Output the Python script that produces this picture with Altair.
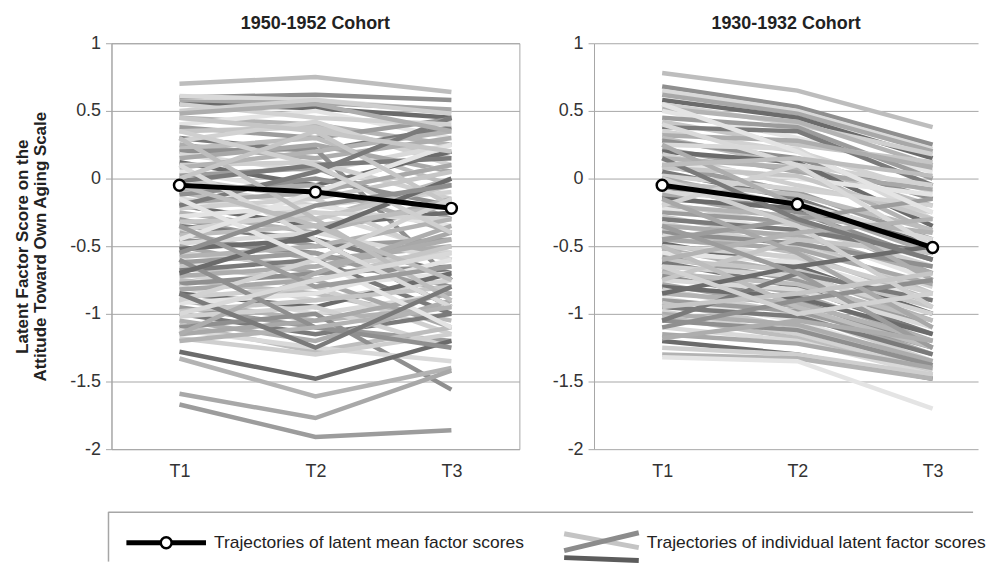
import altair as alt
import pandas as pd

T_LABELS = ["T1", "T2", "T3"]
Y_TICKS = [1, 0.5, 0, -0.5, -1, -1.5, -2]
TITLES = ["1950-1952  Cohort", "1930-1932  Cohort"]
Y_TITLE = ["Latent Factor Score on the", "Attitude Toward Own Aging Scale"]
LEGEND_MEAN = "Trajectories of latent mean factor scores"
LEGEND_IND = "Trajectories of individual latent factor scores"

# 1950-1952 cohort: individual trajectories (read approx. from picture)
LEFT_T1 = [0.70, 0.60, 0.61, 0.57, 0.55, 0.50, 0.45, 0.40, 0.38, 0.35, 0.30, 0.28, 0.25, 0.22, 0.20, 0.18,
           0.15, 0.12, 0.10, 0.08, 0.05, 0.02, 0.00, -0.02, -0.05, -0.08, -0.10, -0.12, -0.15, -0.18, -0.20,
           -0.22, -0.25, -0.28, -0.30, -0.32, -0.35, -0.38, -0.40, -0.42, -0.45, -0.48, -0.50, -0.52, -0.55,
           -0.58, -0.60, -0.62, -0.65, -0.68, -0.70, -0.72, -0.75, -0.78, -0.80, -0.82, -0.85, -0.88, -0.90,
           -0.92, -0.95, -0.98, -1.00, -1.02, -1.05, -1.08, -1.10, -1.12, -1.15, -1.28, -1.18, -1.33, -0.45,
           -1.67, 0.45, -0.20, -0.90, -1.15, 0.30, -0.60, 0.10, -1.59, -0.70, 0.35, -1.20, -0.15, -0.35, 0.00,
           -0.85, 0.55, 0.48, -0.05, -0.55, -1.00]
LEFT_T2 = [0.75, 0.62, 0.58, 0.56, 0.52, 0.58, 0.40, 0.50, 0.30, 0.38, 0.20, 0.42, 0.15, 0.30, 0.22, 0.05,
           0.25, -0.05, 0.12, 0.20, -0.10, 0.08, -0.15, 0.10, -0.20, -0.05, -0.30, 0.00, -0.25, -0.10, -0.35,
           -0.15, -0.40, -0.20, -0.50, -0.30, -0.45, -0.25, -0.60, -0.35, -0.55, -0.40, -0.70, -0.45, -0.65,
           -0.50, -0.80, -0.55, -0.75, -0.60, -0.90, -0.65, -0.85, -0.70, -1.00, -0.75, -0.95, -0.80, -1.05,
           -0.85, -1.10, -0.90, -1.15, -0.95, -1.20, -1.28, -1.00, -1.25, -1.05, -1.48, -1.30, -1.61, -0.10,
           -1.91, 0.35, 0.05, -0.60, -0.70, -0.30, -1.10, -0.45, -1.77, -0.40, 0.10, -1.10, -0.60, -0.80, 0.35,
           -1.25, 0.45, 0.55, -0.35, -0.20, -0.75]
LEFT_T3 = [0.64, 0.58, 0.50, 0.51, 0.45, 0.48, 0.25, 0.30, 0.44, 0.15, 0.38, 0.10, 0.30, -0.05, -0.75, 0.25,
           0.05, 0.20, -0.15, 0.35, 0.10, -0.30, 0.05, 0.15, -0.10, -0.40, 0.00, -0.20, -0.55, 0.10, -0.25,
           -0.60, -0.15, -0.35, -0.45, -0.05, -0.70, -0.30, -0.50, -0.20, -0.80, -0.60, -0.40, -0.95, -0.55,
           -0.30, -0.70, -0.85, -0.50, -1.00, -0.75, -0.45, -1.05, -0.65, -0.85, -1.10, -0.70, -1.15, -0.95,
           -0.60, -1.20, -0.80, -1.00, -1.25, -0.90, -1.10, -1.56, -1.35, -0.85, -1.20, -1.15, -1.40, 0.25,
           -1.86, -0.20, 0.45, -0.15, -0.35, -0.90, -1.25, -0.95, -1.42, 0.00, -0.40, -0.95, -1.10, -0.65, 0.20,
           -0.80, 0.40, 0.35, -0.75, -0.05, -0.55]
LEFT_MEAN = [-0.05, -0.10, -0.22]

# 1930-1932 cohort
RIGHT_T1 = [0.78, 0.68, 0.65, 0.62, 0.58, 0.55, 0.52, 0.50, 0.45, 0.42, 0.38, 0.35, 0.32, 0.30, 0.28, 0.25,
            0.22, 0.20, 0.18, 0.15, 0.12, 0.10, 0.08, 0.05, 0.02, 0.00, -0.03, -0.06, -0.10, -0.12, -0.15,
            -0.18, -0.20, -0.22, -0.25, -0.28, -0.30, -0.33, -0.35, -0.38, -0.40, -0.42, -0.45, -0.48, -0.50,
            -0.52, -0.55, -0.58, -0.60, -0.62, -0.65, -0.68, -0.70, -0.72, -0.75, -0.78, -0.80, -0.82, -0.85,
            -0.88, -0.90, -0.92, -0.95, -0.98, -1.00, -1.02, -1.05, -1.10, -1.15, -1.20, -1.25, -1.30, -1.32,
            -0.45, -0.75, -1.05, -0.20, 0.25, -0.50, -1.10, 0.40, -0.15, -0.85, 0.00, -0.60, 0.55, -0.35, -0.95,
            0.15, -0.65, -1.18, 0.10]
RIGHT_T2 = [0.65, 0.53, 0.50, 0.48, 0.45, 0.40, 0.42, 0.30, 0.38, 0.25, 0.35, 0.20, 0.28, 0.10, 0.15, 0.22,
            0.05, 0.12, -0.05, 0.08, 0.00, -0.10, 0.02, -0.15, -0.08, -0.20, -0.12, -0.25, -0.18, -0.30, -0.22,
            -0.35, -0.28, -0.40, -0.32, -0.45, -0.38, -0.50, -0.42, -0.55, -0.48, -0.60, -0.52, -0.65, -0.58,
            -0.70, -0.62, -0.75, -0.68, -0.80, -0.72, -0.85, -0.78, -0.90, -0.82, -0.95, -0.88, -1.00, -0.92,
            -1.05, -0.98, -1.10, -1.02, -1.15, -1.08, -1.18, -1.12, -1.20, -1.22, -1.30, -1.30, -1.33, -1.35,
            -0.30, -0.45, -0.70, 0.10, -0.20, -0.95, -0.90, 0.10, -0.55, -0.65, -0.35, -0.40, 0.20, -0.70, -0.85,
            -0.30, -1.00, -1.05, 0.15]
RIGHT_T3 = [0.38, 0.25, 0.22, 0.20, 0.15, 0.18, 0.10, 0.05, 0.00, 0.12, -0.05, -0.10, 0.08, -0.20, -0.15,
            -0.30, -0.08, -0.35, -0.25, -0.40, -0.12, -0.45, -0.30, -0.50, -0.20, -0.55, -0.38, -0.60, -0.45,
            -0.70, -0.50, -0.65, -0.40, -0.75, -0.60, -0.85, -0.55, -0.80, -0.70, -0.90, -0.65, -0.95, -0.78,
            -1.00, -0.85, -1.05, -0.90, -1.10, -0.95, -1.15, -1.00, -1.20, -1.05, -1.25, -1.10, -1.30, -1.15,
            -1.35, -1.20, -1.38, -1.25, -1.40, -1.30, -1.42, -1.35, -1.45, -1.38, -1.45, -1.40, -1.48, -1.45,
            -1.48, -1.70, -0.15, -0.55, -0.90, -0.05, -0.75, -1.25, -0.75, -0.50, -1.10, -0.50, -0.95, -0.30,
            -0.25, -1.25, -0.70, -0.60, -0.85, -1.20, 0.02]
RIGHT_MEAN = [-0.05, -0.19, -0.51]

GRAYS = ["#bdbdbd", "#8f8f8f", "#d9d9d9", "#a8a8a8", "#6b6b6b", "#cfcfcf", "#b3b3b3",
         "#e4e4e4", "#9c9c9c", "#c6c6c6", "#7a7a7a", "#d2d2d2", "#adadad"]

FONT = "Liberation Sans"
GRID = "#a6a6a6"


def long_df(t1, t2, t3, prefix):
    assert len(t1) == len(t2) == len(t3)
    rows = []
    for i, vals in enumerate(zip(t1, t2, t3)):
        for t, v in zip(T_LABELS, vals):
            rows.append({"id": f"{prefix}{i:03d}", "t": t, "v": v})
    return pd.DataFrame(rows)


def panel(df, mean, title, width, xscale, with_title, stroke):
    yaxis_kw = dict(values=Y_TICKS, labelExpr="'' + datum.value", grid=True, gridColor=GRID,
                    domainColor=GRID, tickColor=GRID, tickSize=6, labelPadding=5,
                    labelFontSize=18, labelColor="#333", labelFont=FONT)
    if with_title:
        yaxis_kw.update(title=Y_TITLE, titleFontSize=17, titleFontWeight="bold", titleFont=FONT,
                        titleColor="#222", titleLineHeight=18, titlePadding=20)
    else:
        yaxis_kw.update(title="")
    x = alt.X("t:O", scale=xscale, sort=T_LABELS,
              axis=alt.Axis(title=None, labelAngle=0, domain=False, ticks=False, grid=False,
                            labelPadding=13, labelFontSize=18, labelColor="#333", labelFont=FONT))
    y = alt.Y("v:Q", scale=alt.Scale(domain=[-2, 1], nice=False, zero=False), axis=alt.Axis(**yaxis_kw))

    lines = alt.Chart(df).mark_line(strokeWidth=4.5).encode(
        x=x, y=y, color=alt.Color("id:N", scale=alt.Scale(range=GRAYS), legend=None))
    mdf = pd.DataFrame({"t": T_LABELS, "v": mean})
    mline = alt.Chart(mdf).mark_line(color="black", strokeWidth=5).encode(x=x, y=y)
    mpts = alt.Chart(mdf).mark_point(filled=True, fill="white", stroke="black", strokeWidth=2.5,
                                     size=120, opacity=1).encode(x=x, y=y)
    return alt.layer(lines, mline, mpts).properties(
        width=width, height=408,
        title=alt.TitleParams(text=title, fontSize=18, fontWeight="bold", font=FONT, color="#222",
                              offset=1, anchor="middle"),
        view=alt.ViewBackground(stroke=stroke),
    )


left = panel(long_df(LEFT_T1, LEFT_T2, LEFT_T3, "L"), LEFT_MEAN, TITLES[0], 410,
             alt.Scale(type="point", domain=T_LABELS, padding=0.5), True, GRID)
right = panel(long_df(RIGHT_T1, RIGHT_T2, RIGHT_T3, "R"), RIGHT_MEAN, TITLES[1], 386,
              alt.Scale(type="point", domain=T_LABELS, padding=0.42, align=0.6), False, "transparent")

# legend panel: its origin is aligned with the left plot area (x = 110 on the page)
one = pd.DataFrame({"a": [1]})
LW = 866
LH = 50
box_top = alt.Chart(one).mark_rule(color=GRID, strokeWidth=1.5).encode(
    x=alt.value(-3), x2=alt.value(LW), y=alt.value(0.5))
box_left = alt.Chart(one).mark_rule(color=GRID, strokeWidth=1.5).encode(
    x=alt.value(-3), y=alt.value(0), y2=alt.value(LH))
m_rule = alt.Chart(one).mark_rule(color="black", strokeWidth=5).encode(
    x=alt.value(15), x2=alt.value(95), y=alt.value(31))
m_pt = alt.Chart(one).mark_point(filled=True, fill="white", stroke="black", strokeWidth=2.5,
                                 size=120, opacity=1).encode(x=alt.value(55), y=alt.value(31))
t1 = alt.Chart(one).mark_text(align="left", baseline="middle", fontSize=17.5, font=FONT, color="#222").encode(
    x=alt.value(103), y=alt.value(31), text=alt.value(LEGEND_MEAN))
i1 = alt.Chart(one).mark_rule(color="#c4c4c4", strokeWidth=5).encode(
    x=alt.value(455), x2=alt.value(530), y=alt.value(22), y2=alt.value(36))
i2 = alt.Chart(one).mark_rule(color="#8c8c8c", strokeWidth=5).encode(
    x=alt.value(455), x2=alt.value(530), y=alt.value(39), y2=alt.value(21))
i3 = alt.Chart(one).mark_rule(color="#5c5c5c", strokeWidth=5).encode(
    x=alt.value(455), x2=alt.value(530), y=alt.value(46), y2=alt.value(49))
t2 = alt.Chart(one).mark_text(align="left", baseline="middle", fontSize=17.5, font=FONT, color="#222").encode(
    x=alt.value(538), y=alt.value(31), text=alt.value(LEGEND_IND))
legend = alt.layer(box_top, box_left, m_rule, m_pt, t1, i1, i2, i3, t2).properties(width=LW, height=LH)

panels = alt.hconcat(left, right, spacing=31).resolve_scale(color="independent")

chart = alt.vconcat(
    panels,
    legend,
    spacing=29,
).properties(
    padding={"left": 5, "top": 5, "right": 0, "bottom": 0}
).resolve_scale(color="independent").configure(font=FONT).configure_view(stroke="transparent")

chart.save("out.html", embed_options={"renderer": "svg", "actions": False})
